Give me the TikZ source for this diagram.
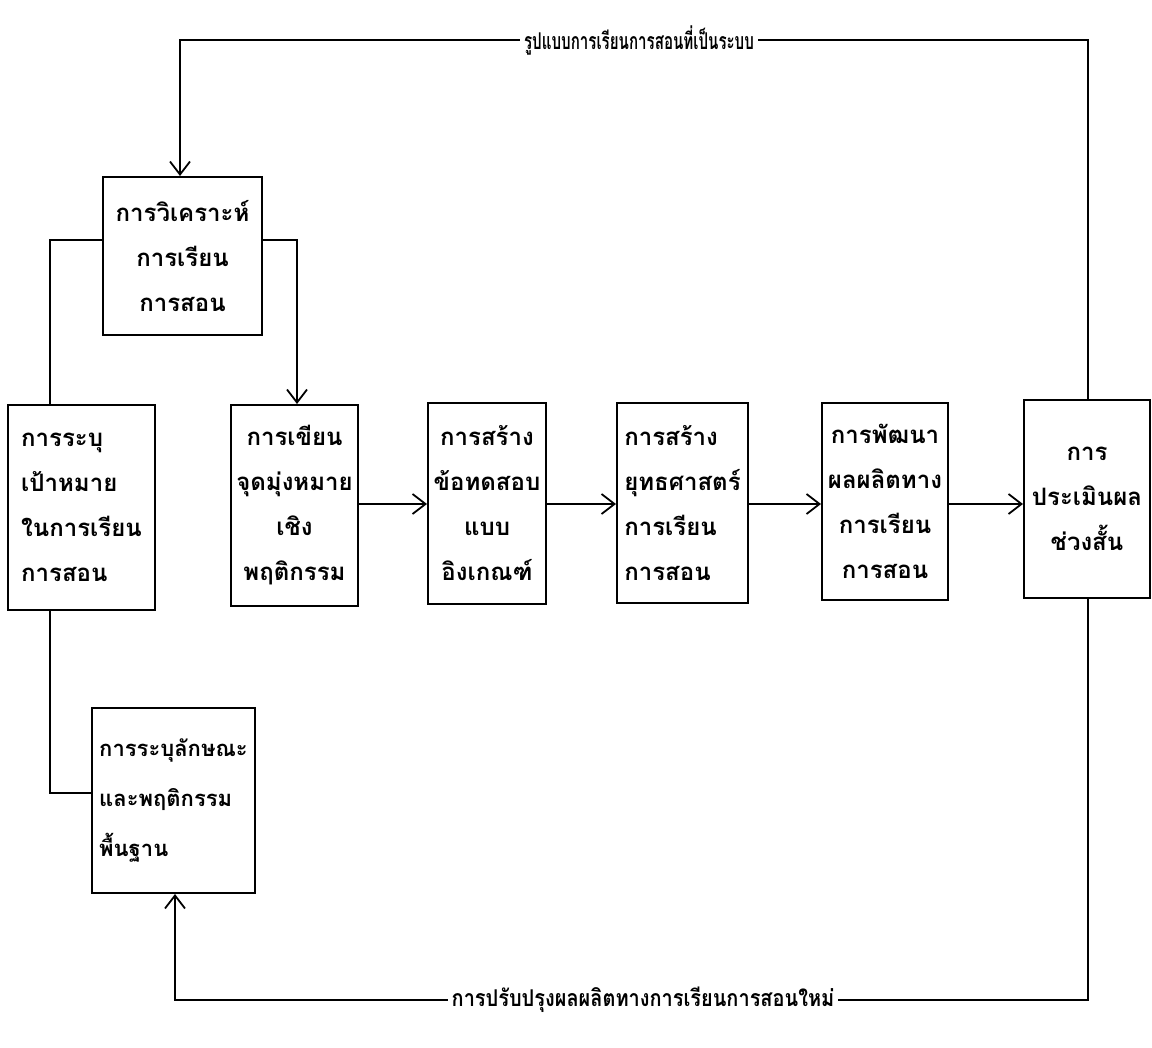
\documentclass[tikz,border=0pt]{standalone}
\usepackage{fontspec}
\newfontfamily\thaifont[Script=Thai]{Loma}
\usetikzlibrary{arrows.meta}
\tikzset{
  box/.style={draw, line width=2pt, inner sep=0pt, align=center,
    font=\thaifont\bfseries\fontsize{24}{45}\selectfont},
  conn/.style={line width=2pt},
  arr/.style={conn, -{Straight Barb[length=13pt, width=20pt, line width=1.8pt]}},
  lbl/.style={fill=white, inner sep=4pt, font=\thaifont\bfseries\fontsize{21}{24}\selectfont}
}
\begin{document}
\begin{tikzpicture}[x=1pt, y=-1pt]
\useasboundingbox (0,0) rectangle (1152,1048);
\node[box, minimum width=159pt, minimum height=158pt] (A) at (182.5,256) {การวิเคราะห์\\การเรียน\\การสอน};
\node[box, minimum width=147pt, minimum height=205pt, align=left] (B) at (81.5,507.5) {การระบุ\\เป้าหมาย\\ในการเรียน\\การสอน};
\node[box, minimum width=127pt, minimum height=201pt] (C) at (294.5,505.5) {การเขียน\\จุดมุ่งหมาย\\เชิง\\พฤติกรรม};
\node[box, minimum width=118pt, minimum height=201pt] (D) at (487,503.5) {การสร้าง\\ข้อทดสอบ\\แบบ\\อิงเกณฑ์};
\node[box, minimum width=131pt, minimum height=200pt, align=left] (E) at (682.5,503) {การสร้าง\\ยุทธศาสตร์\\การเรียน\\การสอน};
\node[box, minimum width=126pt, minimum height=197pt] (F) at (885,501.5) {การพัฒนา\\ผลผลิตทาง\\การเรียน\\การสอน};
\node[box, minimum width=126pt, minimum height=198pt] (G) at (1087,499) {การ\\ประเมินผล\\ช่วงสั้น};
\node[box, minimum width=163pt, minimum height=185pt, align=left,
  font=\thaifont\bfseries\fontsize{22}{50}\selectfont] (H) at (173.5,800.5) {การระบุลักษณะ\\และพฤติกรรม\\พื้นฐาน};

% top feedback
\coordinate (t1) at (1088,40);
\coordinate (t2) at (180,40);
\draw[arr] (G.north -| t1) -- (t1) -- (t2) -- (t2 |- A.north);
\node[lbl] (TL) at (639,40) {\scalebox{0.72}[1.1]{รูปแบบการเรียนการสอนที่เป็นระบบ}};

% A to B and C
\coordinate (a1) at (50,240);
\coordinate (a2) at (297,240);
\draw[conn] (A.west |- a1) -- (a1) -- (a1 |- B.north);
\draw[arr] (A.east |- a2) -- (a2) -- (a2 |- C.north);

% B to H
\coordinate (b1) at (50,793);
\draw[conn] (b1 |- B.south) -- (b1) -- (b1 -| H.west);

% horizontal chain
\draw[arr] (C.east |- 0,504) -- (D.west |- 0,504);
\draw[arr] (D.east |- 0,504) -- (E.west |- 0,504);
\draw[arr] (E.east |- 0,504) -- (F.west |- 0,504);
\draw[arr] (F.east |- 0,504) -- (G.west |- 0,504);

% bottom feedback
\coordinate (u1) at (1088,1000);
\coordinate (u2) at (175,1000);
\draw[arr] (G.south -| u1) -- (u1) -- (u2) -- (u2 |- H.south);
\node[lbl] (BL) at (643,1000) {\scalebox{0.95}[1.1]{การปรับปรุงผลผลิตทางการเรียนการสอนใหม่}};
\end{tikzpicture}
\end{document}
